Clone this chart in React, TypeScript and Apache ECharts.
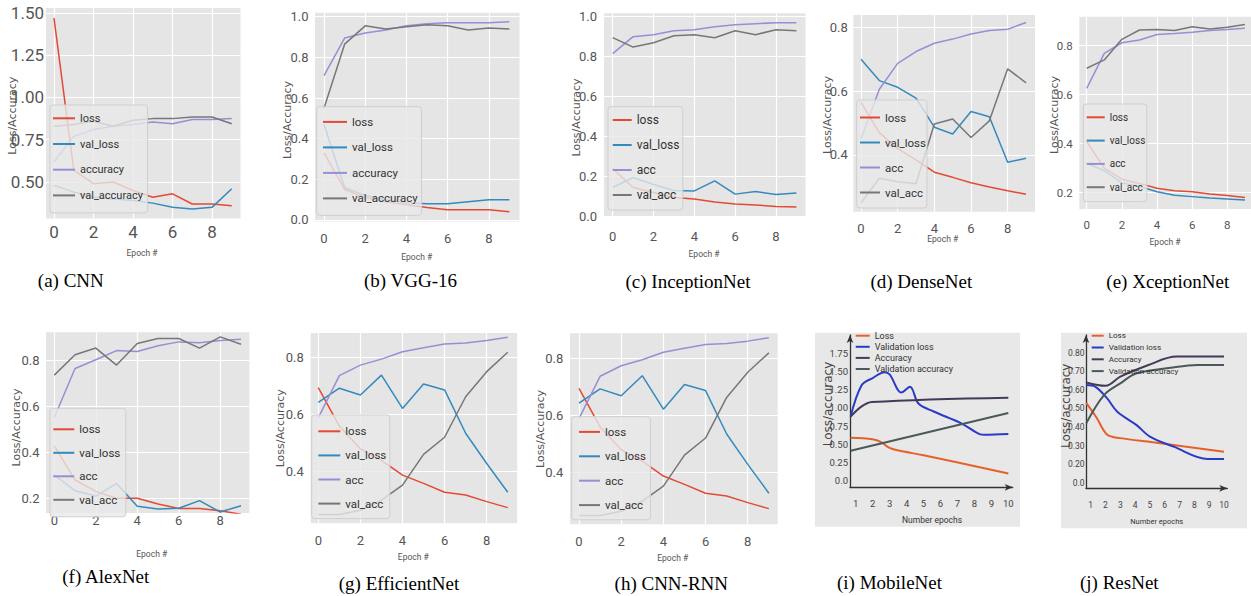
import React, { useEffect, useRef } from "react";
import * as echarts from "echarts";

// ---------- data ----------
const EPOCHS = [0, 1, 2, 3, 4, 5, 6, 7, 8, 9];
const X_TICKS = [0, 2, 4, 6, 8];
const X_TICKS_1_10 = [1, 2, 3, 4, 5, 6, 7, 8, 9, 10];
const Y_TICKS_A = [0.5, 0.75, 1.0, 1.25, 1.5];
const Y_TICKS_BC = [0, 0.2, 0.4, 0.6, 0.8, 1.0];
const Y_TICKS_D = [0.4, 0.6, 0.8];
const Y_TICKS_EF = [0.2, 0.4, 0.6, 0.8];
const Y_TICKS_GH = [0.4, 0.6, 0.8];
const MOBILE_Y_TICKS = [0, 0.25, 0.5, 0.75, 1.0, 1.25, 1.5, 1.75];
const RESNET_Y_TICKS = [0.1, 0.2, 0.3, 0.4, 0.5, 0.6, 0.7, 0.8];
const RESNET_Y_LABELS = ["0.0", "0.20", "0.30", "0.40", "0.50", "0.60", "0.70", "0.80"];

// (a) CNN
const cnnLoss = [1.47, 0.57, 0.49, 0.5, 0.45, 0.41, 0.43, 0.37, 0.37, 0.36];
const cnnValLoss = [0.48, 0.44, 0.41, 0.4, 0.39, 0.375, 0.35, 0.34, 0.35, 0.46];
const cnnAcc = [0.62, 0.77, 0.81, 0.83, 0.84, 0.855, 0.845, 0.87, 0.87, 0.875];
const cnnValAcc = [0.83, 0.84, 0.86, 0.83, 0.865, 0.875, 0.875, 0.885, 0.885, 0.845];
// (b) VGG-16
const vggLoss = [0.33, 0.15, 0.11, 0.09, 0.075, 0.062, 0.05, 0.05, 0.05, 0.04];
const vggValLoss = [0.47, 0.16, 0.12, 0.1, 0.085, 0.08, 0.08, 0.09, 0.1, 0.1];
const vggAcc = [0.71, 0.895, 0.92, 0.935, 0.955, 0.965, 0.97, 0.97, 0.97, 0.975];
const vggValAcc = [0.55, 0.865, 0.955, 0.94, 0.95, 0.96, 0.955, 0.935, 0.945, 0.94];
// (c) InceptionNet
const incLoss = [0.24, 0.145, 0.12, 0.095, 0.088, 0.072, 0.062, 0.058, 0.05, 0.048];
const incValLoss = [0.145, 0.195, 0.16, 0.13, 0.128, 0.178, 0.112, 0.125, 0.11, 0.118];
const incAcc = [0.815, 0.9, 0.91, 0.93, 0.935, 0.95, 0.96, 0.965, 0.97, 0.97];
const incValAcc = [0.895, 0.848, 0.87, 0.905, 0.91, 0.895, 0.93, 0.91, 0.935, 0.93];
// (d) DenseNet
const denseLoss = [0.565, 0.47, 0.42, 0.385, 0.346, 0.33, 0.313, 0.3, 0.288, 0.277];
const denseValLoss = [0.7, 0.633, 0.612, 0.578, 0.487, 0.466, 0.536, 0.52, 0.377, 0.39];
const denseAcc = [0.45, 0.606, 0.687, 0.724, 0.75, 0.763, 0.779, 0.79, 0.794, 0.815];
const denseValAcc = [0.25, 0.327, 0.316, 0.31, 0.497, 0.513, 0.455, 0.507, 0.67, 0.626];
// (e) XceptionNet
const xcLoss = [0.408, 0.3, 0.255, 0.238, 0.218, 0.208, 0.204, 0.195, 0.189, 0.18];
const xcValLoss = [0.32, 0.29, 0.24, 0.225, 0.204, 0.19, 0.184, 0.178, 0.174, 0.17];
const xcAcc = [0.626, 0.769, 0.812, 0.823, 0.846, 0.85, 0.855, 0.862, 0.866, 0.871];
const xcValAcc = [0.708, 0.742, 0.826, 0.864, 0.866, 0.862, 0.877, 0.868, 0.875, 0.887];
// (f) AlexNet
const alexLoss = [0.429, 0.28, 0.23, 0.2, 0.2, 0.175, 0.156, 0.156, 0.146, 0.131];
const alexValLoss = [0.302, 0.233, 0.21, 0.265, 0.165, 0.153, 0.157, 0.19, 0.14, 0.168];
const alexAcc = [0.552, 0.766, 0.804, 0.844, 0.84, 0.865, 0.882, 0.878, 0.888, 0.894];
const alexValAcc = [0.737, 0.826, 0.855, 0.781, 0.875, 0.897, 0.897, 0.855, 0.904, 0.872];
// (g) EfficientNet
const effLoss = [0.695, 0.56, 0.48, 0.44, 0.388, 0.359, 0.328, 0.318, 0.295, 0.274];
const effValLoss = [0.643, 0.693, 0.669, 0.739, 0.622, 0.708, 0.687, 0.535, 0.429, 0.328];
const effAcc = [0.589, 0.737, 0.774, 0.795, 0.821, 0.835, 0.848, 0.852, 0.86, 0.872];
const effValAcc = [0.25, 0.25, 0.265, 0.3, 0.353, 0.461, 0.521, 0.663, 0.751, 0.819];
// (h) CNN-RNN (the reference shows the same curves as (g))
const crnLoss = [0.695, 0.56, 0.48, 0.44, 0.388, 0.359, 0.328, 0.318, 0.295, 0.274];
const crnValLoss = [0.643, 0.693, 0.669, 0.739, 0.622, 0.708, 0.687, 0.535, 0.429, 0.328];
const crnAcc = [0.589, 0.737, 0.774, 0.795, 0.821, 0.835, 0.848, 0.852, 0.86, 0.872];
const crnValAcc = [0.25, 0.25, 0.265, 0.3, 0.353, 0.461, 0.521, 0.663, 0.751, 0.819];
// (i) MobileNet
const mobLossX = [0.7, 2.0, 2.5, 3.0, 3.6, 5.0, 10];
const mobLoss = [0.59, 0.57, 0.53, 0.45, 0.41, 0.35, 0.1];
const mobValLossX = [0.7, 1.35, 2.0, 2.7, 3.0, 3.7, 4.2, 4.7, 5.6, 7.2, 8.3, 8.6, 10];
const mobValLoss = [0.88, 1.31, 1.41, 1.49, 1.46, 1.21, 1.29, 1.06, 0.95, 0.79, 0.64, 0.63, 0.64];
const mobAccX = [0.7, 1.35, 1.95, 10];
const mobAcc = [0.88, 1.02, 1.08, 1.14];
const mobValAccX = [0.7, 10];
const mobValAcc = [0.41, 0.93];
// (j) ResNet
const resLossX = [0.7, 1.4, 2.1, 3.0, 5.2, 10];
const resLoss = [0.53, 0.45, 0.36, 0.34, 0.318, 0.267];
const resValLossX = [0.7, 1.3, 2.1, 2.8, 4.1, 5.0, 6.6, 8.9, 10];
const resValLoss = [0.626, 0.617, 0.555, 0.482, 0.41, 0.348, 0.294, 0.228, 0.228];
const resAccX = [0.7, 2.0, 3.0, 4.9, 6.8, 10];
const resAcc = [0.64, 0.622, 0.671, 0.734, 0.779, 0.779];
const resValAccX = [0.7, 1.9, 3.0, 4.1, 6.4, 8.2, 10];
const resValAcc = [0.42, 0.572, 0.635, 0.689, 0.719, 0.734, 0.734];

// ---------- styles ----------
const C_LOSS = "#E24A33";
const C_VLOSS = "#348ABD";
const C_ACC = "#988ED5";
const C_VACC = "#777777";
const M_LOSS = "#E5612C";
const M_VLOSS = "#2A3BC4";
const M_ACC = "#433B58";
const M_VACC = "#4B5858";

const SANS = "'DejaVu Sans', 'Liberation Sans', sans-serif";
const NARROW = "Roboto, 'Liberation Sans', sans-serif";
const SERIF = "'Liberation Serif', 'Times New Roman', serif";

type S = [string, number[], string, number[]?];

const PANELS: any[] = [
  {
    caption: "(a) CNN", cap: [70.8, 280],
    grid: [46, 8, 194.5, 210.5], xr: [-0.405, 9.443], yr: [0.284, 1.5296],
    yTicks: Y_TICKS_A, fmt: (v: number) => v.toFixed(2), tick: 17, xMargin: 4.7, yMargin: 2,
    legend: { left: 50, top: 105, font: 11, gap: 14.7, pad: [7.8, 4.7, 12, 3], iw: 22 },
    yTitle: [12.3, 115.7], xTitle: [142, 253],
    series: [["loss", cnnLoss, C_LOSS], ["val_loss", cnnValLoss, C_VLOSS], ["accuracy", cnnAcc, C_ACC], ["val_accuracy", cnnValAcc, C_VACC]] as S[],
  },
  {
    caption: "(b) VGG-16", cap: [410.5, 280],
    grid: [315, 12.7, 204.5, 208.8], xr: [-0.437, 9.49], yr: [-0.0074, 1.0197],
    yTicks: Y_TICKS_BC, fmt: (v: number) => v.toFixed(1), tick: 13, xMargin: 10.3, yMargin: 6.5,
    legend: { left: 316.7, top: 106.7, font: 11.5, gap: 13.5, pad: [9.2, 3.7, 10.9, 6.3], iw: 24 },
    yTitle: [287.3, 120], xTitle: [416.7, 256.7],
    series: [["loss", vggLoss, C_LOSS], ["val_loss", vggValLoss, C_VLOSS], ["accuracy", vggAcc, C_ACC], ["val_accuracy", vggValAcc, C_VACC]] as S[],
  },
  {
    caption: "(c) InceptionNet", cap: [688, 281.7],
    grid: [604, 13.3, 201.5, 203.7], xr: [-0.426, 9.446], yr: [-0.0025, 1.017],
    yTicks: Y_TICKS_BC, fmt: (v: number) => v.toFixed(1), tick: 13, xMargin: 12.5, yMargin: 7,
    legend: { left: 608, top: 106.7, font: 12, gap: 13, pad: [7.3, 3.3, 9, 4.7], iw: 19 },
    yTitle: [576, 117.5], xTitle: [704, 254],
    series: [["loss", incLoss, C_LOSS], ["val_loss", incValLoss, C_VLOSS], ["acc", incAcc, C_ACC], ["val_acc", incValAcc, C_VACC]] as S[],
  },
  {
    caption: "(d) DenseNet", cap: [921.3, 281.7],
    grid: [853.3, 15, 181.7, 196.7], xr: [-0.42, 9.49], yr: [0.2224, 0.8385],
    yTicks: Y_TICKS_D, fmt: (v: number) => v.toFixed(1), tick: 13, xMargin: 10, yMargin: 5.5,
    legend: { left: 856.7, top: 100, font: 11.5, gap: 13, pad: [11.5, 1, 9.5, 3.3], iw: 20 },
    yTitle: [827.7, 115], xTitle: [942.7, 238.5],
    series: [["loss", denseLoss, C_LOSS], ["val_loss", denseValLoss, C_VLOSS], ["acc", denseAcc, C_ACC], ["val_acc", denseValAcc, C_VACC]] as S[],
  },
  {
    caption: "(e) XceptionNet", cap: [1167.8, 281.7],
    grid: [1079.3, 16.7, 171.7, 192.3], xr: [-0.421, 9.346], yr: [0.1335, 0.9184],
    yTicks: Y_TICKS_EF, fmt: (v: number) => v.toFixed(1), tick: 11.5, xMargin: 10.2, yMargin: 6.5,
    legend: { left: 1083.3, top: 104, font: 10, gap: 13.3, pad: [8.3, 1.5, 9.4, 3.4], iw: 18 },
    yTitle: [1054.3, 115], xTitle: [1165, 242.3],
    series: [["loss", xcLoss, C_LOSS], ["val_loss", xcValLoss, C_VLOSS], ["acc", xcAcc, C_ACC], ["val_acc", xcValAcc, C_VACC]] as S[],
  },
  {
    caption: "(f) AlexNet", cap: [105.8, 576],
    grid: [46, 332.3, 203.3, 180.7], xr: [-0.4, 9.4], yr: [0.136, 0.9238],
    yTicks: Y_TICKS_EF, fmt: (v: number) => v.toFixed(1), tick: 13, xMargin: 1.3, yMargin: 6.5,
    legend: { left: 50, top: 408.3, font: 11.5, gap: 11.5, pad: [15, 5.5, 11, 3.3], iw: 21 },
    yTitle: [16, 427.5], xTitle: [151.7, 554.3],
    series: [["loss", alexLoss, C_LOSS], ["val_loss", alexValLoss, C_VLOSS], ["acc", alexAcc, C_ACC], ["val_acc", alexValAcc, C_VACC]] as S[],
  },
  {
    caption: "(g) EfficientNet", cap: [399, 583.3],
    grid: [310.7, 333, 206.5, 190.3], xr: [-0.361, 9.449], yr: [0.219, 0.8867],
    yTicks: Y_TICKS_GH, fmt: (v: number) => v.toFixed(1), tick: 13, xMargin: 10.2, yMargin: 7,
    legend: { left: 311.7, top: 415, font: 11.5, gap: 12.1, pad: [10.3, 3.5, 9, 6.6], iw: 22 },
    yTitle: [280.7, 428.3], xTitle: [413.3, 556.7],
    series: [["loss", effLoss, C_LOSS], ["val_loss", effValLoss, C_VLOSS], ["acc", effAcc, C_ACC], ["val_acc", effValAcc, C_VACC]] as S[],
  },
  {
    caption: "(h) CNN-RNN", cap: [671.3, 583.3],
    grid: [570, 333.3, 207.7, 191], xr: [-0.427, 9.42], yr: [0.2192, 0.8874],
    yTicks: Y_TICKS_GH, fmt: (v: number) => v.toFixed(1), tick: 13, xMargin: 10.9, yMargin: 6.7,
    legend: { left: 571.7, top: 416.7, font: 11.5, gap: 12.4, pad: [9.2, 4.5, 8.7, 7.3], iw: 21 },
    yTitle: [540.7, 429], xTitle: [672.7, 558.3],
    series: [["loss", crnLoss, C_LOSS], ["val_loss", crnValLoss, C_VLOSS], ["acc", crnAcc, C_ACC], ["val_acc", crnValAcc, C_VACC]] as S[],
  },
  {
    caption: "(i) MobileNet", cap: [889.5, 582.3], arrow: true,
    bg: [815, 332.7, 205, 194],
    grid: [850, 335, 162.7, 152.3], xr: [0.664, 10.257], yr: [-0.0907, 2.001],
    xTicks: X_TICKS_1_10, yTicks: MOBILE_Y_TICKS, fmt: (v: number) => (v === 0 ? "0.0" : v.toFixed(2)),
    tick: 9.5, xMargin: 11.2, yMargin: 2,
    legend: { left: 855.7, top: 331.2, font: 9, gap: 2.1, pad: [0, 0, 0, 0], iw: 14, plain: true },
    yTitle: [827.5, 404], yTitleSize: 12, xTitle: [932, 520], xTitleSize: 8.5, xTitleText: "Number epochs", yTitleText: "Loss/accuracy",
    series: [["Loss", mobLoss, M_LOSS, mobLossX], ["Validation loss", mobValLoss, M_VLOSS, mobValLossX], ["Accuracy", mobAcc, M_ACC, mobAccX], ["Validation accuracy", mobValAcc, M_VACC, mobValAccX]] as S[],
  },
  {
    caption: "(j) ResNet", cap: [1119.3, 582.3], arrow: true,
    bg: [1061, 332.7, 186, 195.6],
    grid: [1086, 335, 141.3, 153.3], xr: [0.683, 10.224], yr: [0.0698, 0.8954],
    xTicks: X_TICKS_1_10, yTicks: RESNET_Y_TICKS, fmt: (v: number) => RESNET_Y_LABELS[Math.round(v * 10) - 1],
    tick: 8.5, xMargin: 11.7, yMargin: 1.5,
    legend: { left: 1091.7, top: 331.7, font: 8, gap: 3.8, pad: [0, 0, 0, 0], iw: 12, plain: true },
    yTitle: [1066, 405.8], yTitleSize: 12, xTitle: [1156.7, 521.7], xTitleSize: 7.5, xTitleText: "Number epochs", yTitleText: "Loss/accuracy",
    series: [["Loss", resLoss, M_LOSS, resLossX], ["Validation loss", resValLoss, M_VLOSS, resValLossX], ["Accuracy", resAcc, M_ACC, resAccX], ["Validation accuracy", resValAcc, M_VACC, resValAccX]] as S[],
  },
];

function buildOption() {
  const grids: any[] = [];
  const xAxes: any[] = [];
  const yAxes: any[] = [];
  const legends: any[] = [];
  const series: any[] = [];
  const elements: any[] = [];

  PANELS.forEach((p, k) => {
    const [gl, gt, gw, gh] = p.grid;
    const arrow = !!p.arrow;
    const xTicks = p.xTicks || X_TICKS;
    grids.push({
      left: gl, top: gt, width: gw, height: gh,
      show: !arrow, backgroundColor: "#E5E5E5", borderWidth: 0, containLabel: false,
    });
    const axisLine = arrow
      ? { show: true, onZero: false, symbol: ["none", "arrow"], symbolSize: [5, 8], lineStyle: { color: "#333", width: 1.3 } }
      : { show: false, onZero: false };
    const labelBase = { fontFamily: NARROW, fontSize: p.tick, color: arrow ? "#444" : "#555" };
    xAxes.push({
      type: "value", gridIndex: k, min: p.xr[0], max: p.xr[1],
      axisLine,
      axisTick: { show: false, customValues: xTicks },
      axisLabel: { ...labelBase, customValues: xTicks, margin: p.xMargin, formatter: (v: number) => String(v) },
      splitLine: { show: !arrow, lineStyle: { color: "#ffffff", width: 1.2 } },
    });
    yAxes.push({
      type: "value", gridIndex: k, min: p.yr[0], max: p.yr[1],
      axisLine,
      axisTick: { show: false, customValues: p.yTicks },
      axisLabel: { ...labelBase, customValues: p.yTicks, margin: p.yMargin, formatter: p.fmt },
      splitLine: { show: !arrow, lineStyle: { color: "#ffffff", width: 1.2 } },
    });
    const L = p.legend;
    legends.push({
      orient: "vertical", left: L.left, top: L.top,
      data: p.series.map((s: S) => s[0]),
      icon: "rect", itemWidth: L.iw, itemHeight: 2, itemGap: L.gap,
      padding: L.pad, selectedMode: false,
      backgroundColor: L.plain ? "transparent" : "rgba(232,232,232,0.8)",
      borderColor: L.plain ? "transparent" : "#cfcfcf", borderWidth: L.plain ? 0 : 1, borderRadius: 3,
      textStyle: { fontFamily: NARROW, fontSize: L.font, color: "#333" },
    });
    p.series.forEach((s: S) => {
      const xs = s[3] || EPOCHS;
      series.push({
        type: "line", name: s[0], xAxisIndex: k, yAxisIndex: k,
        data: xs.map((x: number, i: number) => [x, s[1][i]]),
        color: s[2], symbol: "none", showSymbol: false,
        smooth: arrow ? 0.35 : false,
        lineStyle: { width: arrow ? 2 : 1.5, color: s[2] },
        itemStyle: { color: s[2] },
        emphasis: { disabled: true }, silent: true,
      });
    });
    if (p.bg) {
      elements.push({ type: "rect", z: -10, shape: { x: p.bg[0], y: p.bg[1], width: p.bg[2], height: p.bg[3] }, style: { fill: "#E8E8E8" } });
    }
    elements.push({
      type: "text", x: p.cap[0], y: p.cap[1],
      style: { text: p.caption, fill: "#000", font: `19px ${SERIF}`, align: "center", verticalAlign: "middle", textAlign: "center", textVerticalAlign: "middle" },
    });
    elements.push({
      type: "text", x: p.yTitle[0], y: p.yTitle[1], rotation: Math.PI / 2,
      style: { text: p.yTitleText || "Loss/Accuracy", fill: arrow ? "#444" : "#555", font: `${p.yTitleSize || 11}px ${SANS}`, align: "center", verticalAlign: "middle", textAlign: "center", textVerticalAlign: "middle" },
    });
    elements.push({
      type: "text", x: p.xTitle[0], y: p.xTitle[1],
      style: { text: p.xTitleText || "Epoch #", fill: arrow ? "#333" : "#555", font: `${p.xTitleSize || 8.5}px ${NARROW}`, align: "center", verticalAlign: "middle", textAlign: "center", textVerticalAlign: "middle" },
    });
  });

  return {
    animation: false,
    backgroundColor: "#ffffff",
    grid: grids, xAxis: xAxes, yAxis: yAxes, legend: legends, series,
    graphic: { elements },
  };
}

export default function App() {
  const ref = useRef<HTMLDivElement>(null);
  useEffect(() => {
    if (!ref.current) return;
    const chart = echarts.init(ref.current, undefined, { renderer: "svg" });
    chart.setOption(buildOption() as any);
    return () => chart.dispose();
  }, []);
  return <div ref={ref} style={{ position: "absolute", left: 0, top: 0, width: 1251, height: 596 }} />;
}
